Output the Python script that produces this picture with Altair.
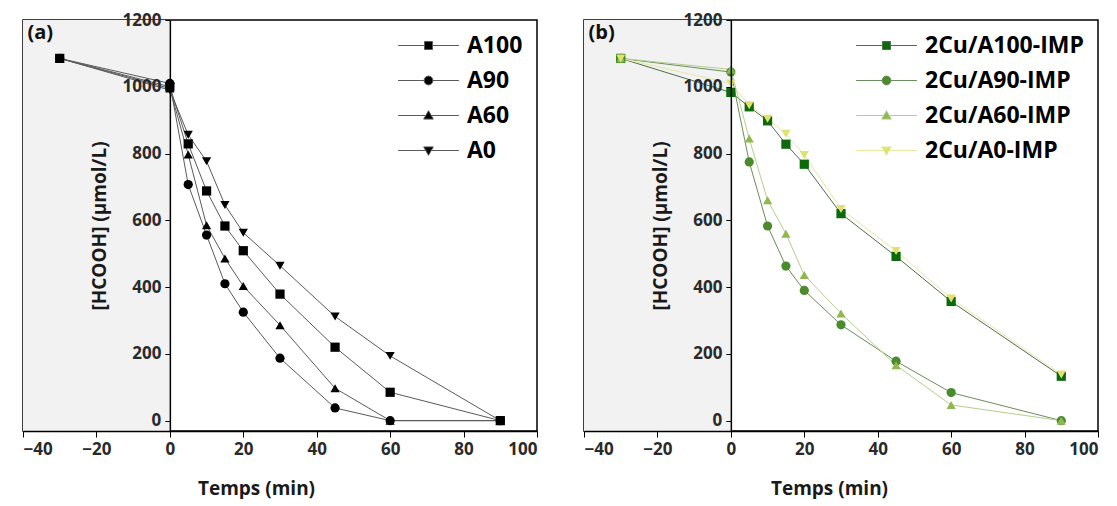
import altair as alt
import pandas as pd

# ---------------- data ----------------
time_min = [-30, 0, 5, 10, 15, 20, 30, 45, 60, 90]

series_a = ["A100", "A90", "A60", "A0"]
a_A100 = [1085, 1000, 829, 688, 583, 509, 379, 220, 85, 0]
a_A90 = [1085, 1010, 707, 556, 410, 325, 187, 38, 0, 0]
a_A60 = [1085, 995, 797, 585, 486, 403, 286, 97, 0, 0]
a_A0 = [1085, 990, 856, 777, 646, 563, 464, 312, 194, 0]

series_b = ["2Cu/A100-IMP", "2Cu/A90-IMP", "2Cu/A60-IMP", "2Cu/A0-IMP"]
b_A100 = [1085, 983, 940, 898, 828, 768, 620, 492, 357, 133]
b_A90 = [1085, 1044, 775, 583, 463, 390, 287, 178, 84, 0]
b_A60 = [1085, 1052, 845, 660, 560, 436, 321, 166, 47, 0]
b_A0 = [1085, 1010, 945, 904, 859, 796, 634, 508, 366, 138]

shade_start = [-40]
shade_end = [0]
x_domain = [-40, 100]
y_domain = [-31, 1200]

# ---------------- styles ----------------
shapes = ["square", "circle", "triangle-up", "triangle-down"]
fills_a = ["#000000", "#000000", "#000000", "#000000"]
lines_a = ["#5a5a5a", "#5a5a5a", "#5a5a5a", "#5a5a5a"]
fills_b = ["#0c690c", "#4a8b2c", "#8fb84e", "#dfe36d"]
lines_b = ["#4f6d4f", "#6b8c5c", "#b4cf8c", "#e4e9a3"]

# legend glyphs: a short line with the marker in the middle
legend_paths = [
    "M-7.6,0H-1M1,0H7.6M-1,-1H1V1H-1Z",
    "M-7.6,0H-1.1M1.1,0H7.6M-1.1,0A1.1,1.1 0 1,0 1.1,0A1.1,1.1 0 1,0 -1.1,0Z",
    "M-7.6,0H-0.7M0.7,0H7.6M0,-1.2L1.2,0.9H-1.2Z",
    "M-7.6,0H-0.7M0.7,0H7.6M0,1.2L1.2,-0.9H-1.2Z",
]

W, H = 514, 411
y_offset = -(0 - x_domain[0]) / (x_domain[1] - x_domain[0]) * W


def panel(tag, names, values, fills, lines, title_x):
    rows = []
    for n, vals in zip(names, values):
        for t, v in zip(time_min, vals):
            rows.append({"series": n, "t": t, "c": v})
    df = pd.DataFrame(rows)
    shade = pd.DataFrame({"x": shade_start, "x2": shade_end,
                          "y": [y_domain[0]], "y2": [y_domain[1]]})

    xs = alt.Scale(domain=x_domain, nice=False, zero=False)
    ys = alt.Scale(domain=y_domain, nice=False, zero=False)

    x_axis = alt.Axis(
        values=list(range(-40, 101, 10)),
        labelExpr="datum.value % 20 == 0 ? datum.label : ''",
        format="d", title="Temps (min)", grid=False, zindex=1,
        tickSize=6, tickColor="black", domainColor="black", domainWidth=1.5,
        labelFontSize=17, labelFontWeight="bold", labelColor="#2a2a2a",
        labelPadding=4, titleFontSize=19, titleFontWeight="bold",
        titleColor="#1a1a1a", titlePadding=22, titleX=title_x,
    )
    y_axis = alt.Axis(
        values=list(range(0, 1201, 100)),
        labelExpr="datum.value % 200 == 0 ? datum.label : ''",
        format="d", title="[HCOOH] (μmol/L)", grid=False, offset=y_offset, zindex=1,
        tickSize=5, tickColor="black", domainColor="black", domainWidth=1.5,
        labelFontSize=17, labelFontWeight="bold", labelColor="#2a2a2a",
        labelPadding=4, titleFontSize=19, titleFontWeight="bold",
        titleColor="#1a1a1a", titlePadding=12,
    )

    rect = alt.Chart(shade).mark_rect(color="#f2f2f2").encode(
        x=alt.X("x:Q", scale=xs, axis=x_axis),
        x2="x2:Q",
        y=alt.Y("y:Q", scale=ys, axis=y_axis),
        y2="y2:Q",
    )

    line = alt.Chart(df).mark_line(strokeWidth=1).encode(
        x=alt.X("t:Q", scale=xs),
        y=alt.Y("c:Q", scale=ys),
        stroke=alt.Stroke("series:N", scale=alt.Scale(domain=names, range=lines), legend=None),
        order=alt.Order("t:Q"),
    )

    pts = alt.Chart(df).mark_point(filled=True, size=85, opacity=1).encode(
        x=alt.X("t:Q", scale=xs),
        y=alt.Y("c:Q", scale=ys),
        fill=alt.Fill("series:N", scale=alt.Scale(domain=names, range=fills), legend=None),
        shape=alt.Shape("series:N", scale=alt.Scale(domain=names, range=shapes), legend=None),
    )

    legend = alt.Legend(
        title=None, orient="top-right", offset=4,
        labelFontSize=23, labelFontWeight="bold", labelColor="#000000",
        symbolSize=64, symbolStrokeWidth=1, labelOffset=27, rowPadding=11,
        padding=10,
    )

    # legend carrier: no marks drawn (empty after filter), only the legend
    leg = alt.Chart(df).transform_filter("false").mark_point(
        filled=True, size=64, opacity=1, strokeWidth=1
    ).encode(
        x=alt.X("t:Q", scale=xs),
        y=alt.Y("c:Q", scale=ys),
        fill=alt.Fill("series:N", scale=alt.Scale(domain=names, range=fills),
                      legend=legend, sort=names),
        stroke=alt.Stroke("series:N", scale=alt.Scale(domain=names, range=lines),
                          legend=legend, sort=names),
        shape=alt.Shape("series:N", scale=alt.Scale(domain=names, range=legend_paths),
                        legend=legend, sort=names),
    )

    return alt.layer(rect, line, pts, leg).resolve_scale(
        shape="independent", fill="independent", stroke="independent"
    ).properties(
        width=W, height=H,
        title=alt.Title(tag, anchor="start", offset=-32, dx=5, fontSize=20,
                        fontWeight="bold", color="#111111"),
    )


pa = panel("(a)", series_a, [a_A100, a_A90, a_A60, a_A0], fills_a, lines_a, 233)
pb = panel("(b)", series_b, [b_A100, b_A90, b_A60, b_A0], fills_b, lines_b, 245)

chart = alt.hconcat(pa, pb, spacing=43).resolve_scale(
    fill="independent", shape="independent", stroke="independent"
).resolve_legend(fill="independent", shape="independent", stroke="independent").configure(
    font="Open Sans", padding={"left": 13, "top": 2, "right": 0, "bottom": 0}
).configure_view(stroke="black", strokeWidth=1.5)

chart.save("out.html", embed_options={"renderer": "svg", "actions": False})
